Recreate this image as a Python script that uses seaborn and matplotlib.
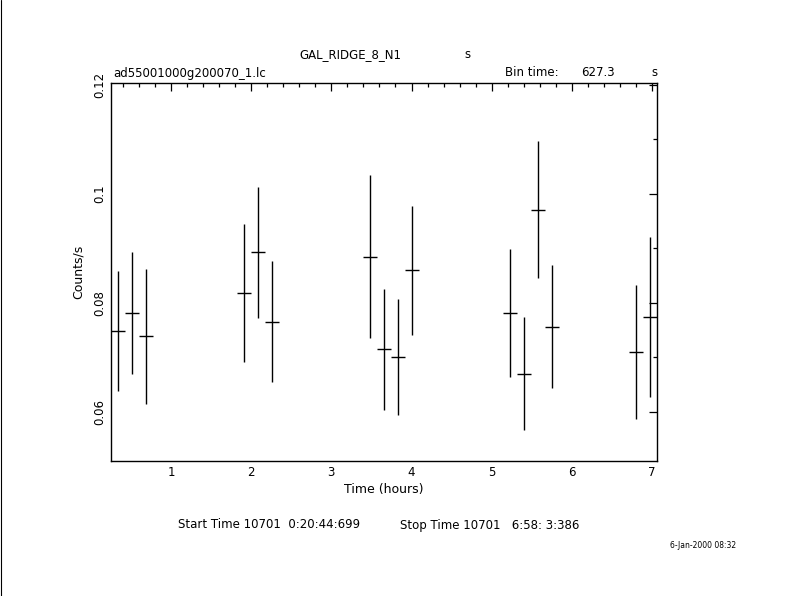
import numpy as np
import matplotlib
matplotlib.use('Agg')
import matplotlib.pyplot as plt
import seaborn as sns
from matplotlib.ticker import MultipleLocator

# Light curve values
TIME_HOURS = [0.343, 0.517, 0.692, 1.914, 2.089, 2.263, 3.485, 3.660,
              3.834, 4.009, 5.231, 5.405, 5.580, 5.754, 6.802, 6.977]
RATE = [0.0749, 0.0781, 0.0739, 0.0818, 0.0893, 0.0765, 0.0885, 0.0715,
        0.0701, 0.0860, 0.0781, 0.0670, 0.0971, 0.0756, 0.0710, 0.0774]
RATE_ERR = [0.0110, 0.0112, 0.0124, 0.0127, 0.0120, 0.0111, 0.0150, 0.0111,
            0.0106, 0.0118, 0.0117, 0.0104, 0.0125, 0.0113, 0.0123, 0.0146]
BIN_TIME = 627.3  # seconds
HALF_BIN = BIN_TIME / 3600.0 / 2

sns.set_style('white')
plt.rcParams['font.family'] = ['DejaVu Sans']
plt.rcParams['text.color'] = 'black'
plt.rcParams['axes.labelcolor'] = 'black'

fig = plt.figure(figsize=(7.9, 5.96), dpi=100)
ax = fig.add_axes([0.1405, 0.2265, 0.691, 0.634])

ax.errorbar(TIME_HOURS, RATE, yerr=RATE_ERR, xerr=HALF_BIN, fmt='none',
            ecolor='black', elinewidth=1.0, capsize=0)

ax.set_xlim(0.252, 7.06)
ax.set_ylim(0.051, 0.1203)
ax.xaxis.set_major_locator(MultipleLocator(1))
ax.xaxis.set_minor_locator(MultipleLocator(0.2))
ax.yaxis.set_major_locator(MultipleLocator(0.02))
ax.yaxis.set_minor_locator(MultipleLocator(0.01))
ax.tick_params(which='both', direction='in', top=True, right=True,
               colors='black', labelsize=8.5, width=0.9)
ax.tick_params(which='major', length=6)
ax.tick_params(which='minor', length=3)
ax.set_yticks([0.06, 0.08, 0.1, 0.12])
ax.set_yticklabels(['0.06', '0.08', '0.1', '0.12'], rotation=90, va='center')
for s in ax.spines.values():
    s.set_color('black')
    s.set_linewidth(1.0)

ax.set_xlabel('Time (hours)', fontsize=9, labelpad=3)
ax.set_ylabel('Counts/s', fontsize=9, labelpad=6)

# header and footer text
fig.text(350 / 790, 1 - 55 / 596, 'GAL_RIDGE_8_N1', fontsize=8.5, ha='center', va='center')
fig.text(467 / 790, 1 - 55 / 596, 's', fontsize=8.5, ha='center', va='center')
fig.text(113 / 790, 1 - 73 / 596, 'ad55001000g200070_1.lc', fontsize=8.5, ha='left', va='center')
fig.text(505 / 790, 1 - 73 / 596, 'Bin time:', fontsize=8.5, ha='left', va='center')
fig.text(581 / 790, 1 - 73 / 596, f'{BIN_TIME}', fontsize=8.5, ha='left', va='center')
fig.text(654 / 790, 1 - 73 / 596, 's', fontsize=8.5, ha='center', va='center')
fig.text(178 / 790, 1 - 525 / 596, 'Start Time 10701  0:20:44:699', fontsize=8.5, ha='left', va='center')
fig.text(400 / 790, 1 - 525 / 596, 'Stop Time 10701   6:58: 3:386', fontsize=8.5, ha='left', va='center')
fig.text(736 / 790, 1 - 545 / 596, '6-Jan-2000 08:32', fontsize=5.5, ha='right', va='center')

# left border line of the page
fig.add_artist(plt.Line2D([0.0008, 0.0008], [0, 1], color='black', linewidth=0.8))

plt.savefig('out.png', dpi=100, facecolor='white')
